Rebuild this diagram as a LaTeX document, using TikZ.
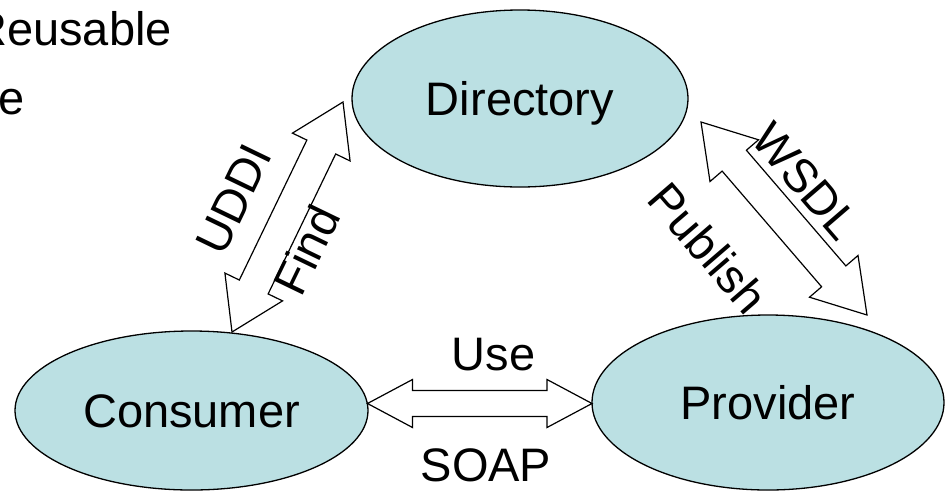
\documentclass[tikz,border=0pt]{standalone}
\usepackage{fontspec}
\setmainfont{Liberation Sans}
\usetikzlibrary{shapes.geometric,calc}
\definecolor{ellfill}{RGB}{187,224,227}
\newcommand{\blockarr}[5]{%
  \path ($(#1)!#3!(#2)$) coordinate (ba1) ($(#2)!#3!(#1)$) coordinate (ba2);
  \draw[barrow] (#1) -- ($(ba1)!#4!90:(#2)$) -- ($(ba1)!#5!90:(#2)$)
    -- ($(ba2)!#5!-90:(#1)$) -- ($(ba2)!#4!-90:(#1)$) -- (#2)
    -- ($(ba2)!#4!90:(#1)$) -- ($(ba2)!#5!90:(#1)$)
    -- ($(ba1)!#5!-90:(#2)$) -- ($(ba1)!#4!-90:(#2)$) -- cycle;
}
\tikzset{
  bigfont/.style={font=\fontsize{47}{56}\selectfont},
  ell/.style={ellipse, draw=black, line width=1.3pt, fill=ellfill, inner sep=0pt,
    bigfont, text height=33.6pt, text depth=0pt},
  barrow/.style={draw=black, fill=white, line width=1.2pt, line join=miter},
  lbl/.style={bigfont, inner sep=0pt},
}
\begin{document}
\begin{tikzpicture}[x=1pt, y=-1pt]
\useasboundingbox (0,0) rectangle (947,491);
\clip (0,0) rectangle (947,491);
\fill[white] (0,0) rectangle (947,491);

% title text (cut off at the left edge)
\node[lbl, anchor=base east] (t1) at (172,45) {Reusable};
\node[lbl, anchor=base west] (t2) at (-2,114) {e};

% ellipses
\node[ell, minimum width=336pt, minimum height=177pt] (dir) at (520,98.5) {Directory};
\node[ell, minimum width=353pt, minimum height=159pt] (cons) at (191.5,410.5) {Consumer};
\node[ell, minimum width=352pt, minimum height=175pt] (prov) at (768,402.5) {Provider};

% arrow tips
\coordinate (a1) at (232,332);
\coordinate (a2) at (343,102);
\coordinate (b1) at (701,122);
\coordinate (b2) at (867,315);
\coordinate (c1) at (367.5,403.5);
\coordinate (c2) at (592,403.5);

\blockarr{a1}{a2}{50pt}{32pt}{16pt}
\blockarr{b1}{b2}{51pt}{32pt}{16pt}
\blockarr{c1}{c2}{45pt}{24pt}{13pt}

% labels
\node[lbl, rotate=64.2] (uddi) at (234,199) {UDDI};
\node[lbl, rotate=64.2] (find) at (306.5,250) {Find};
\node[lbl, rotate=-49.3] (wsdl) at (806,181.5) {WSDL};
\node[lbl, rotate=-49.3] (pub) at (708.5,248) {Publish};
\node[lbl, anchor=base] (use) at (493.5,370) {Use};
\node[lbl, anchor=base] (soap) at (486,481.7) {SOAP};
\end{tikzpicture}
\end{document}
